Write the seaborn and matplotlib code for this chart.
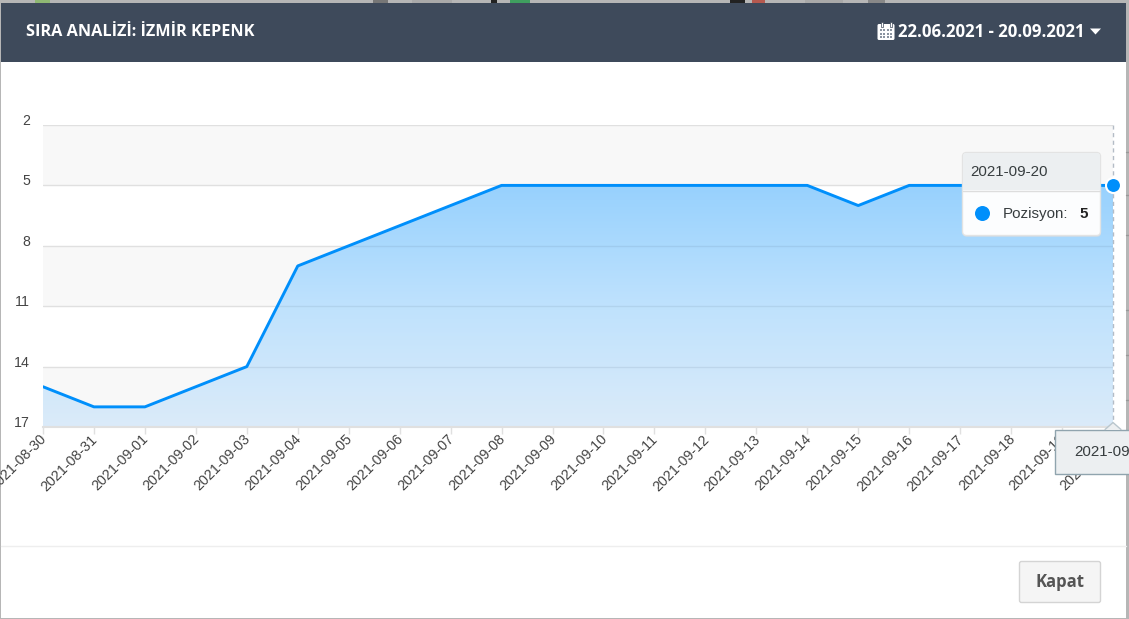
import numpy as np
import seaborn as sns
import matplotlib.pyplot as plt
import matplotlib.transforms as mtrans
from matplotlib.colors import LinearSegmentedColormap
from matplotlib.patches import Rectangle, FancyBboxPatch, Polygon, Circle

# --------------------------
# Dados
# --------------------------
tarihler = ['2021-08-30', '2021-08-31', '2021-09-01', '2021-09-02', '2021-09-03', '2021-09-04',
            '2021-09-05', '2021-09-06', '2021-09-07', '2021-09-08', '2021-09-09', '2021-09-10',
            '2021-09-11', '2021-09-12', '2021-09-13', '2021-09-14', '2021-09-15', '2021-09-16',
            '2021-09-17', '2021-09-18', '2021-09-19', '2021-09-20']
pozisyon = [15, 16, 16, 15, 14, 9, 8, 7, 6, 5, 5, 5, 5, 5, 5, 5, 6, 5, 5, 5, 5, 5]
y_ticks = [2, 5, 8, 11, 14, 17]

BASLIK = 'SIRA ANALİZİ: İZMİR KEPENK'
TARIH_ARALIGI = '22.06.2021 - 20.09.2021'

MAVI = '#008ffb'
KOYU = '#3e4a5b'
BASLIK_FONT = 'Open Sans'
W, H = 1129, 619

sns.set_theme(style='white')
plt.rcParams['font.family'] = ['Liberation Sans', 'DejaVu Sans']

fig = plt.figure(figsize=(W / 100, H / 100), dpi=100, facecolor='#b6b6b6')

# --------------------------
# Arka plan: modal pencere
# --------------------------
bg = fig.add_axes([0, 0, 1, 1], zorder=0)
bg.set_xlim(0, W)
bg.set_ylim(H, 0)
bg.axis('off')
bg.add_patch(Rectangle((1, 3), 1125, 615, fc='white', ec='none'))
bg.add_patch(Rectangle((1, 3), 1125, 59, fc=KOYU, ec='none'))
bg.plot([1, 1126], [545.5, 545.5], color='#eeeeee', lw=1)

# arkadaki sayfadan kalan parcalar
for x0, x1, c in [(35, 50, '#8fb873'), (373, 388, '#777777'), (412, 452, '#a9a9a9'),
                  (491, 497, '#222222'), (510, 530, '#3f9f5f'), (730, 745, '#222222'),
                  (752, 765, '#b5594f'), (805, 843, '#a9a9a9'), (868, 885, '#888888')]:
    bg.add_patch(Rectangle((x0, 0), x1 - x0, 3, fc=c, ec='none'))
for y0 in [152, 195, 235, 310, 355, 400]:
    bg.plot([1126, 1129], [y0, y0], color='#999999', lw=1)

# --------------------------
# Grafik
# --------------------------
ax = fig.add_axes([43 / W, 1 - 427 / H, (1113 - 43) / W, (427 - 125) / H], zorder=1)
x = np.arange(len(tarihler))

# satir bantlari
for i in range(len(y_ticks) - 1):
    cor = '#f8f8f8' if i % 2 == 0 else 'white'
    ax.axhspan(y_ticks[i], y_ticks[i + 1], color=cor, lw=0, zorder=0)
for t in y_ticks:
    ax.axhline(t, color='#e0e0e0', lw=1, zorder=0.5)

# alan: gradient + clip
cmap = LinearSegmentedColormap.from_list('alan', ['#97d1fe', '#bfe2fd', '#dbebf9'])
grad = np.linspace(0, 1, 256).reshape(-1, 1)
poly = ax.fill_between(x, pozisyon, max(y_ticks), color='none', lw=0)
alan_yol = poly.get_paths()[0]
im = ax.imshow(grad, cmap=cmap, aspect='auto', extent=[x[0], x[-1], max(y_ticks), min(pozisyon)], zorder=1)
im.set_clip_path(alan_yol, transform=ax.transData)

# alan ustunde hafif koyu grid
for t in y_ticks:
    cizgi = ax.axhline(t, color='#54708a', lw=1, alpha=0.13, zorder=2)
    cizgi.set_clip_path(alan_yol, transform=ax.transData)
ax.axvline(x[-1], color='#b4bcc6', lw=1, ls=(0, (3, 2.5)), zorder=3, clip_on=False)

sns.lineplot(x=x, y=pozisyon, ax=ax, color=MAVI, lw=2.1, zorder=4, errorbar=None)

ax.set_xlim(x[0], x[-1])
ax.set_ylim(max(y_ticks), min(y_ticks))
ax.set_xlabel('')
ax.set_ylabel('')
ax.set_yticks(y_ticks)
ax.set_yticklabels([str(t) for t in y_ticks], fontsize=10.2, color='#444444', va='center')
ax.set_xticks(x)
ax.set_xticklabels(tarihler, rotation=45, ha='right', rotation_mode='anchor', fontsize=10.3, color='#444444')
ax.tick_params(axis='x', length=5, width=1, color='#e0e0e0', pad=1.5, bottom=True)
ax.tick_params(axis='y', length=0, pad=9.4)
for s in ['top', 'left', 'right']:
    ax.spines[s].set_visible(False)
ax.spines['bottom'].set_color('#e0e0e0')
ax.spines['bottom'].set_linewidth(1.5)

# etiketleri referansa gore biraz kaydir
kayma_y = mtrans.ScaledTranslation(0, 4 / 100, fig.dpi_scale_trans)
for lbl in ax.get_yticklabels():
    lbl.set_transform(lbl.get_transform() + kayma_y)
kayma_x = mtrans.ScaledTranslation(-3.5 / 100, 4 / 100, fig.dpi_scale_trans)
for lbl in ax.get_xticklabels():
    lbl.set_transform(lbl.get_transform() + kayma_x)

# --------------------------
# Ust katman: baslik, tooltip, buton (piksel koordinat)
# --------------------------
ov = fig.add_axes([0, 0, 1, 1], zorder=2)
ov.set_xlim(0, W)
ov.set_ylim(H, 0)
ov.axis('off')
ov.patch.set_alpha(0)

ov.text(26, 32, BASLIK, color='white', fontsize=11.7, fontweight='bold', family=BASLIK_FONT, va='center')
ov.text(898, 32, TARIH_ARALIGI, color='white', fontsize=12.1, fontweight='bold', family=BASLIK_FONT, va='center')

# takvim ikonu
ov.add_patch(FancyBboxPatch((877.5, 24), 17, 16, boxstyle='round,pad=0,rounding_size=1.5', fc='white', ec='none'))
for cx in [881, 890]:
    ov.add_patch(Rectangle((cx, 22), 2.2, 5, fc='white', ec=KOYU, lw=0.5))
for cy in [29, 32.5, 36]:
    for cx in [879.5, 883, 886.5, 890]:
        ov.add_patch(Rectangle((cx, cy), 2.3, 2.2, fc='#8b94a1', ec='none'))
ov.add_patch(Polygon([(1090, 28.5), (1101, 28.5), (1095.5, 34.5)], fc='white', ec='none'))

# son nokta
ov.add_patch(Circle((1113.5, 185.5), 7.5, fc=MAVI, ec='white', lw=1.5))

# tooltip
ov.add_patch(FancyBboxPatch((963, 154), 138, 83, boxstyle='round,pad=0,rounding_size=4', fc='#dddddd', ec='none', alpha=0.5))
ov.add_patch(FancyBboxPatch((962.5, 152.5), 138, 83, boxstyle='round,pad=0,rounding_size=4', fc='white', ec='#e3e3e3', lw=1, alpha=0.97))
ov.add_patch(FancyBboxPatch((963, 153), 137, 37, boxstyle='round,pad=0,rounding_size=3', fc='#eceff1', ec='none'))
ov.add_patch(Rectangle((963, 175), 137, 15, fc='#eceff1', ec='none'))
ov.plot([963, 1100], [190.5, 190.5], color='#dddddd', lw=1)
ov.text(970, 172, tarihler[-1], fontsize=10.9, color='#373d3f', va='center')
ov.add_patch(Circle((982.5, 213.5), 7.5, fc=MAVI, ec='none'))
ov.text(1003, 214, 'Pozisyon:', fontsize=10.9, color='#373d3f', va='center')
ov.text(1079, 214, str(pozisyon[-1]), fontsize=10.9, color='#222222', fontweight='bold', va='center')

# x ekseni tooltip
ov.add_patch(Rectangle((1054.5, 429.5), 80, 44, fc='#eceff1', ec='#90a4ae', lw=1))
ov.add_patch(Polygon([(1105, 430), (1113, 422.5), (1121, 430)], fc='#eceff1', ec='none'))
ov.plot([1105, 1113, 1121], [429.5, 422.5, 429.5], color='#b9c6cd', lw=1)
ov.text(1074, 452, tarihler[-1], fontsize=10.9, color='#373d3f', va='center', clip_on=True)

# kapat butonu
ov.add_patch(FancyBboxPatch((1019.5, 561.5), 81, 41, boxstyle='round,pad=0,rounding_size=2', fc='#f5f5f5', ec='#d4d4d4', lw=1))
ov.text(1060, 582, 'Kapat', fontsize=12, color='#555555', fontweight='bold', family=BASLIK_FONT, ha='center', va='center')

plt.savefig('out.png', dpi=100, facecolor=fig.get_facecolor())
